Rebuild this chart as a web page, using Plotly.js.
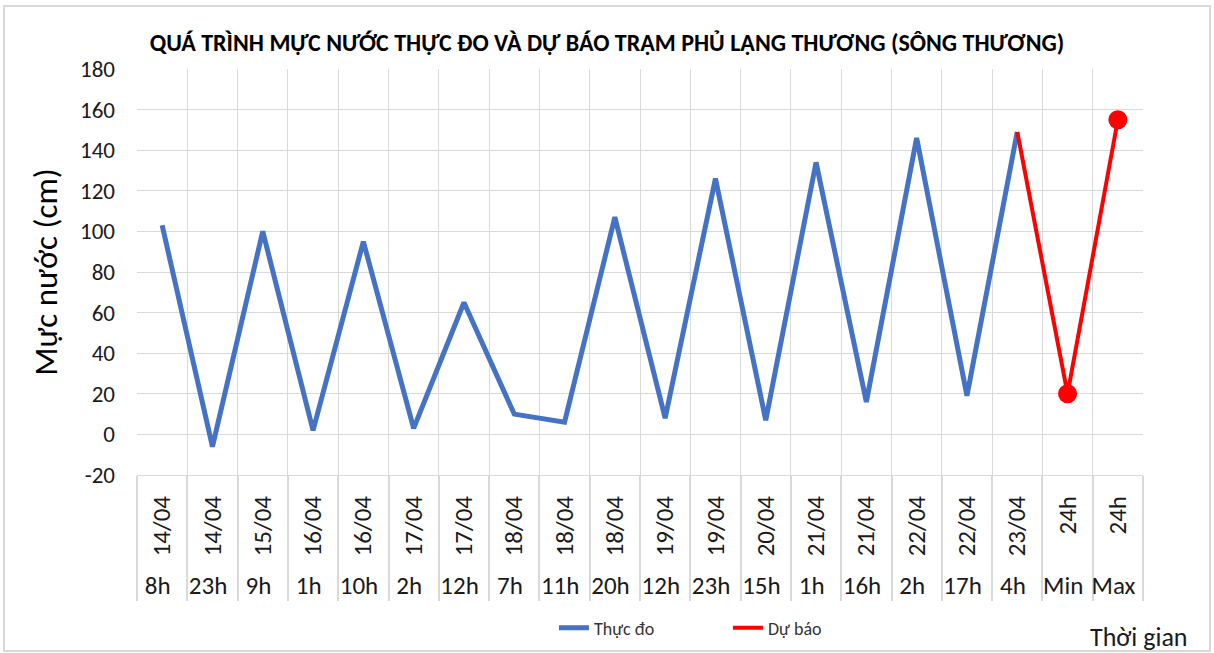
<!DOCTYPE html>
<html>
<head>
<meta charset="utf-8">
<script src="https://cdn.plot.ly/plotly-3.0.1.min.js"></script>
<style>
  html, body { margin: 0; padding: 0; background: #fff; }
  #wrap { position: relative; width: 1214px; height: 653px; }
  #chart { width: 1214px; height: 653px; }
  #frame { position: absolute; left: 3px; top: 5px; right: 3px; bottom: 1px; border: 2px solid #d9d9d9; pointer-events: none; }
</style>
</head>
<body>
<div id="wrap"><div id="chart"></div><div id="frame"></div></div>
<script>
// ---- data ----
const dateLabels = ["14/04","14/04","15/04","16/04","16/04","17/04","17/04","18/04","18/04","18/04","19/04","19/04","20/04","21/04","21/04","22/04","22/04","23/04","24h","24h"];
const hourLabels = ["8h","23h","9h","1h","10h","2h","12h","7h","11h","20h","12h","23h","15h","1h","16h","2h","17h","4h","Min","Max"];
const observed = [103,-6,100,2,95,3,65,10,6,107,8,126,7,134,16,146,19,149,null,null];
const forecast = [null,null,null,null,null,null,null,null,null,null,null,null,null,null,null,null,null,149,20,155];
const seriesNames = ["Thực đo","Dự báo"];
const yTickVals = [-20,0,20,40,60,80,100,120,140,160,180];
const yTickText = ["-20","0","20","40","60","80","100","120","140","160","180"];
const titleText = "QUÁ TRÌNH MỰC NƯỚC THỰC ĐO VÀ DỰ BÁO TRẠM PHỦ LẠNG THƯƠNG (SÔNG THƯƠNG)";
const yTitle = "Mực nước (cm)";
const xTitle = "Thời gian";

const FONT = "Calibri, Carlito, 'Liberation Sans', Arial, sans-serif";
const n = dateLabels.length;

// Each time slot is its own cell: keep repeated hour labels distinct with invisible zero-width suffixes
const seen = {};
const hourKeys = hourLabels.map(h => {
  seen[h] = (seen[h] || 0) + 1;
  return h + "\u200B".repeat(seen[h] - 1);
});
const xcat = [hourKeys, dateLabels];

// forecast marker sizes: no visible marker at the joining point
const fSizes = forecast.map((v, i) => (i >= n - 2) ? 19 : 0);

const traces = [
  {
    type: "scatter", mode: "lines", name: seriesNames[0],
    x: xcat, y: observed,
    line: { color: "#4472C4", width: 5 },
    connectgaps: false
  },
  {
    type: "scatter", mode: "lines+markers", name: seriesNames[1],
    x: xcat, y: forecast,
    line: { color: "#FF0000", width: 4 },
    marker: { color: "#FF0000", size: fSizes, opacity: 1, line: { width: 0 } },
    connectgaps: false
  }
];

const layout = {
  width: 1214, height: 653,
  paper_bgcolor: "#ffffff", plot_bgcolor: "#ffffff",
  margin: { l: 137, r: 71, t: 69, b: 178, autoexpand: false },
  font: { family: FONT, color: "#1a1a1a" },
  title: {
    text: titleText,
    font: { family: FONT, size: 24, color: "#000", weight: "bold" },
    x: 0.5, xref: "container", xanchor: "center",
    y: 1 - 43 / 653, yref: "container", yanchor: "middle"
  },
  showlegend: true,
  legend: {
    orientation: "h", xref: "container", yref: "container",
    x: 0.4563, xanchor: "left",
    y: 1 - 628 / 653, yanchor: "middle",
    entrywidth: 129, entrywidthmode: "pixels",
    font: { family: FONT, size: 18, color: "#333" },
    bgcolor: "rgba(0,0,0,0)"
  },
  xaxis: {
    type: "multicategory",
    range: [-0.5, n - 0.5],
    automargin: false,
    tickangle: -90,
    tickfont: { family: FONT, size: 25, color: "#1a1a1a" },
    ticklabelstandoff: 10,
    showgrid: true, gridcolor: "#d9d9d9", gridwidth: 1,
    tickson: "boundaries",
    showdividers: true, dividercolor: "#d9d9d9", dividerwidth: 2,
    showline: true, linecolor: "#d9d9d9", linewidth: 1,
    ticks: "", zeroline: false
  },
  xaxis2: {
    overlaying: "x", anchor: "y", side: "bottom",
    range: [-0.5, n - 0.5], tick0: 0, dtick: 1,
    showgrid: true, gridcolor: "#d9d9d9", gridwidth: 1,
    showticklabels: false, ticks: "", zeroline: false, showline: false
  },
  yaxis: {
    range: [-20, 180],
    tickmode: "array", tickvals: yTickVals, ticktext: yTickText,
    automargin: false,
    showgrid: true, gridcolor: "#d9d9d9", gridwidth: 1,
    zeroline: false, showline: false, ticks: "",
    tickfont: { family: FONT, size: 23, color: "#1a1a1a" },
    ticklabelstandoff: 21,
    title: { text: yTitle, font: { family: FONT, size: 33, color: "#000" }, standoff: 12 }
  },
  annotations: [
    {
      text: xTitle, xref: "paper", yref: "paper",
      x: (1190 - 137) / (1214 - 137 - 71), xanchor: "right",
      y: (475 - 637) / 406, yanchor: "middle",
      showarrow: false, font: { family: FONT, size: 26, color: "#1a1a1a" }
    }
  ]
};

Plotly.newPlot("chart", traces, layout, { displayModeBar: false, staticPlot: true });
</script>
</body>
</html>
